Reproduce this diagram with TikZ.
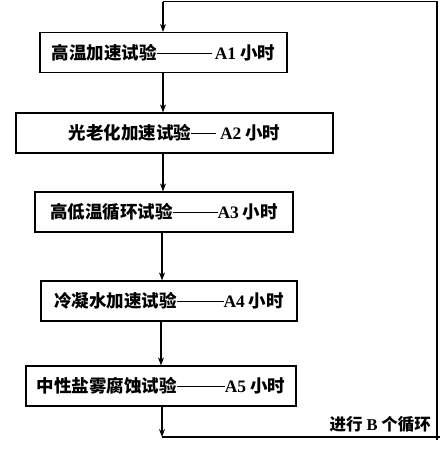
\documentclass[tikz,border=0pt]{standalone}
\usepackage{fontspec}
\newfontfamily\cjk{Noto Sans CJK SC}
\newfontfamily\lat{Liberation Serif}
\usetikzlibrary{arrows.meta}
\newcommand{\dl}[1]{\rule[0.32em]{#1pt}{0.9pt}}
\tikzset{
  stepbox/.style={draw, line width=1.2pt, minimum height=40pt, inner sep=0pt,
    font=\cjk\bfseries\fontsize{17.5}{19}\selectfont},
  flow/.style={line width=1.1pt, -{Stealth[length=8pt,width=6pt]}},
  loopline/.style={line width=1.1pt}
}
\begin{document}
\begin{tikzpicture}[x=1pt,y=-1pt]
\useasboundingbox (0,0) rectangle (445,450);
\node[stepbox, minimum width=247pt] (b1) at (163.5,52.5) {高温加速试验\dl{55}\,{\lat\bfseries A1} 小时};
\node[stepbox, minimum width=317pt] (b2) at (174.5,133) {光老化加速试验\dl{25}\ {\lat\bfseries A2} 小时};
\node[stepbox, minimum width=258pt] (b3) at (164,212) {高低温循环试验\dl{45}{\lat\bfseries A3} 小时};
\node[stepbox, minimum width=256pt] (b4) at (169,301) {冷凝水加速试验\dl{47}{\lat\bfseries A4} 小时};
\node[stepbox, minimum width=270pt] (b5) at (161,386) {中性盐雾腐蚀试验\dl{48}{\lat\bfseries A5} 小时};
\coordinate (lt) at (163,1.5);
\coordinate (rt) at (437,1.5);
\coordinate (rb) at (437,440);
\coordinate (bl) at (162,437);
\coordinate (br) at (440,437);
\draw[flow] (b1.south -| 163,0) -- (b2.north -| 163,0);
\draw[flow] (b2.south -| 163,0) -- (b3.north -| 163,0);
\draw[flow] (b3.south -| 162,0) -- (b4.north -| 162,0);
\draw[flow] (b4.south -| 161,0) -- (b5.north -| 161,0);
\draw[flow] (b5.south -| 162,0) -- (bl);
\draw[loopline] (bl) -- (br);
\draw[loopline] (rb) -- (rt) -- (lt);
\draw[flow] (lt) -- (b1.north -| lt);
\node[anchor=east, inner sep=0pt, font=\cjk\bfseries\fontsize{16.5}{18}\selectfont] (lab) at (431,424) {进行 {\lat\bfseries B} 个循环};
\end{tikzpicture}
\end{document}
